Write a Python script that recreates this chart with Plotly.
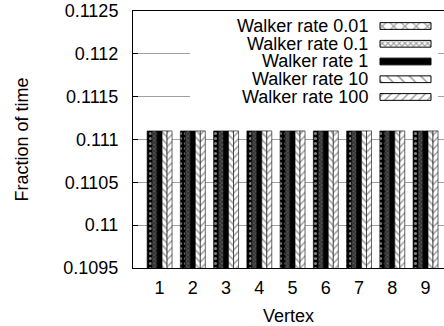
import plotly.graph_objects as go

# ---- data ----
vertices = [1, 2, 3, 4, 5, 6, 7, 8, 9]
series_names = ["Walker rate 0.01", "Walker rate 0.1", "Walker rate 1",
                "Walker rate 10", "Walker rate 100"]
rate_001 = [0.1111, 0.1111, 0.1111, 0.1111, 0.1111, 0.1111, 0.1111, 0.1111, 0.1111]
rate_01 = [0.1111, 0.1111, 0.1111, 0.1111, 0.1111, 0.1111, 0.1111, 0.1111, 0.1111]
rate_1 = [0.1111, 0.1111, 0.1111, 0.1111, 0.1111, 0.1111, 0.1111, 0.1111, 0.1111]
rate_10 = [0.1111, 0.1111, 0.1111, 0.1111, 0.1111, 0.1111, 0.1111, 0.1111, 0.1111]
rate_100 = [0.1111, 0.1111, 0.1111, 0.1111, 0.1111, 0.1111, 0.1111, 0.1111, 0.1111]
y_tick_vals = [0.1095, 0.11, 0.1105, 0.111, 0.1115, 0.112, 0.1125]
y_tick_text = ["0.1095", "0.11", "0.1105", "0.111", "0.1115", "0.112", "0.1125"]
x_tick_text = ["1", "2", "3", "4", "5", "6", "7", "8", "9"]

series_values = [rate_001, rate_01, rate_1, rate_10, rate_100]

# ---- styles ----
FONT = "Liberation Sans, Arial, Helvetica, sans-serif"
FS = 18
# main-chart bars (narrow, so the gnuplot patterns read as dark / light textures)
bar_bg = ["black", "#555555", "black", "white", "white"]
bar_shape = [".", "x", "", "\\", "/"]
bar_fg = ["white", "black", "black", "#555555", "#444444"]
bar_size = [5, 3, 8, 5, 5]
bar_solid = [0.3, 0.5, 0.3, 0.35, 0.3]
# legend samples
leg_bg = ["white", "white", "black", "white", "white"]
leg_shape = ["x", "x", "", "\\", "/"]
leg_fg = ["black", "black", "black", "#555555", "#555555"]
leg_size = [8, 4, 8, 8, 6]
leg_solid = [0.3, 0.5, 0.3, 0.2, 0.25]

fig = go.Figure()

for i, (name, vals) in enumerate(zip(series_names, series_values)):
    fig.add_trace(go.Bar(
        x=vertices, y=vals, name=name, showlegend=False,
        marker=dict(color=bar_bg[i],
                    line=dict(color="black", width=0.6),
                    pattern=dict(shape=bar_shape[i], size=bar_size[i],
                                 solidity=bar_solid[i], fgcolor=bar_fg[i])),
        xaxis="x", yaxis="y"))

# ---- custom gnuplot-style legend (text left, sample right) ----
sample_len = [1] * len(series_names)
fig.add_trace(go.Bar(
    x=sample_len, y=series_names, orientation="h", base=0, width=0.38,
    showlegend=False, hoverinfo="skip",
    marker=dict(color=leg_bg, line=dict(color="black", width=1),
                pattern=dict(shape=leg_shape, size=leg_size,
                             solidity=leg_solid, fgcolor=leg_fg)),
    xaxis="x2", yaxis="y2"))

for name in series_names:
    fig.add_annotation(x=0, y=name, xref="x2", yref="y2", text=name,
                       showarrow=False, xanchor="right", yanchor="middle",
                       xshift=-10, font=dict(family=FONT, size=FS, color="black"))

fig.update_layout(
    width=444, height=326,
    margin=dict(l=133, r=0, t=11, b=58),
    paper_bgcolor="white", plot_bgcolor="white",
    barmode="group", bargap=0.25, bargroupgap=0,
    font=dict(family=FONT, size=FS, color="black"),
    xaxis=dict(domain=[0, 1], range=[0.2, 9.555], tickvals=vertices,
               ticktext=x_tick_text, showgrid=False, zeroline=False,
               showline=True, linecolor="black", linewidth=1, mirror=True,
               ticks="inside", ticklen=5, tickcolor="black",
               ticklabelstandoff=3,
               tickfont=dict(family=FONT, size=FS), automargin=False,
               title=dict(text="Vertex", standoff=14,
                          font=dict(family=FONT, size=FS))),
    yaxis=dict(domain=[0, 1], range=[0.1095, 0.1125], tickvals=y_tick_vals,
               ticktext=y_tick_text, showgrid=True, gridcolor="#a0a0a0",
               gridwidth=1, zeroline=False, showline=True, linecolor="black",
               linewidth=1, mirror=False, ticks="inside", ticklen=5,
               tickcolor="black", ticklabelstandoff=10, automargin=False,
               tickfont=dict(family=FONT, size=FS),
               title=dict(text="Fraction of time", standoff=30,
                          font=dict(family=FONT, size=FS))),
    xaxis2=dict(domain=[0.1833, 0.9807], range=[-3.725, 1.137], anchor="y2",
                visible=False, showgrid=False, zeroline=False),
    yaxis2=dict(domain=[0.6304, 0.9844], range=[4.507, -0.62], anchor="x2",
                type="category", categoryorder="array",
                categoryarray=series_names, visible=False,
                showgrid=False, zeroline=False),
)

fig.write_html("out.html", config={"displayModeBar": False},
               post_script="document.body.style.margin='0';"
                           "document.body.style.overflow='hidden';")
